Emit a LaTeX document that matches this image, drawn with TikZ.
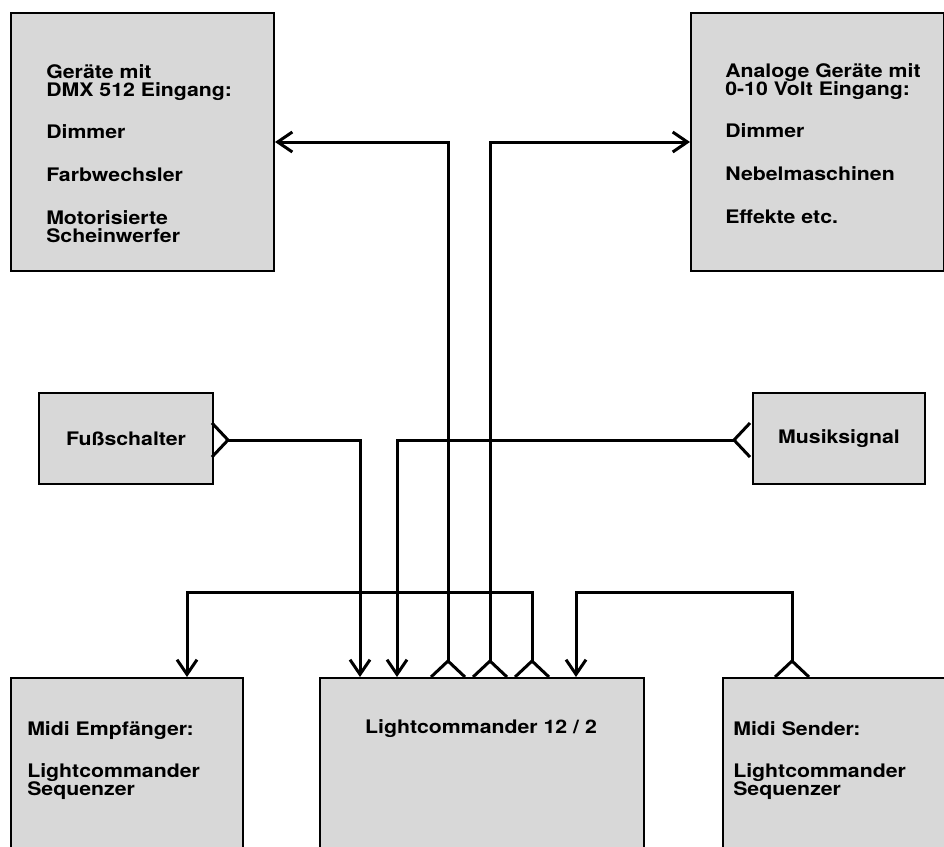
\documentclass[tikz,border=0pt]{standalone}
\usepackage{fontspec}
\setmainfont{TeX Gyre Heros}[FakeStretch=1.14]
\usetikzlibrary{arrows.meta, calc}
\definecolor{panelgray}{RGB}{216, 216, 216}
\newcommand{\lctext}{\fontsize{14}{13.5}\selectfont\bfseries}

\begin{document}
\begin{tikzpicture}[
    x=0.75pt, y=-0.75pt,
    box/.style={draw, line width=1.5pt, fill=panelgray, inner sep=0pt, anchor=north west},
    lbl/.style={font=\lctext, align=left, inner sep=0pt},
    wire/.style={line width=2.25pt, line join=miter},
    arr/.style={-{Straight Barb[length=11pt, width=15pt]}, wire}
]
    \useasboundingbox (0,0) rectangle (944,846);
    \clip (0,0) rectangle (944,846);

    % devices
    \node[box, minimum width=197.25pt, minimum height=193.5pt] (dmx) at (10,12) {};
    \node[box, minimum width=189.75pt, minimum height=193.5pt] (ana) at (690,12) {};
    \node[box, minimum width=130.5pt, minimum height=68.25pt] (fuss) at (38,392) {};
    \node[box, minimum width=129pt, minimum height=68.25pt] (musik) at (752,392) {};
    \node[box, minimum width=174pt, minimum height=160pt] (empf) at (10,677) {};
    \node[box, minimum width=243pt, minimum height=160pt] (lc) at (319,677) {};
    \node[box, minimum width=190pt, minimum height=160pt] (send) at (722,677) {};

    % labels
    \node[lbl, anchor=north west] (dmxtxt) at (46,64)
        {Geräte mit\\DMX 512 Eingang:\\[18.5pt]Dimmer\\[18.5pt]Farbwechsler\\[18.5pt]Motorisierte\\Scheinwerfer};
    \node[lbl, anchor=north west] (anatxt) at (725,63)
        {Analoge Geräte mit\\0-10 Volt Eingang:\\[18.5pt]Dimmer\\[18.5pt]Nebelmaschinen\\[18.5pt]Effekte etc.};
    \node[lbl] (fusstxt) at (fuss.center) {Fußschalter};
    \node[lbl] (musiktxt) at (musik.center) {Musiksignal};
    \node[lbl, anchor=north west] (empftxt) at (27,721)
        {Midi Empfänger:\\[18.5pt]Lightcommander\\Sequenzer};
    \node[lbl, anchor=base] (lctxt) at (481,733) {Lightcommander 12 / 2};
    \node[lbl, anchor=north west] (sendtxt) at (733,721)
        {Midi Sender:\\[18.5pt]Lightcommander\\Sequenzer};

    % ports and bends
    \coordinate (lcA) at (448,661);
    \coordinate (lcB) at (490,661);
    \coordinate (lcC) at (532,661);
    \coordinate (lcD) at (576,677);
    \coordinate (lcE) at (360,677);
    \coordinate (lcF) at (397,677);
    \coordinate (sendOut) at (792,661);
    \coordinate (fussOut) at (228,440);
    \coordinate (musOut) at (734,440);
    \coordinate (empIn) at (187,677);
    \coordinate (empBend) at (187,592);
    \coordinate (sendBend) at (576,592);

    \foreach \p in {lcA, lcB, lcC, sendOut}
        \draw[wire] ($(\p)+(-17,16)$) -- (\p) -- ($(\p)+(17,16)$);
    \draw[wire] ($(fussOut)+(-16,-17)$) -- (fussOut) -- ($(fussOut)+(-16,17)$);
    \draw[wire] ($(musOut)+(16,-17)$) -- (musOut) -- ($(musOut)+(16,17)$);

    % connections
    \draw[arr] (lcA) |- (dmx);
    \draw[arr] (lcB) |- (ana);
    \draw[arr] (lcC) |- (empBend) -- (empIn);
    \draw[arr] (sendOut) |- (sendBend) -- (lcD);
    \draw[arr] (fussOut) -| (lcE);
    \draw[arr] (musOut) -| (lcF);
\end{tikzpicture}
\end{document}
